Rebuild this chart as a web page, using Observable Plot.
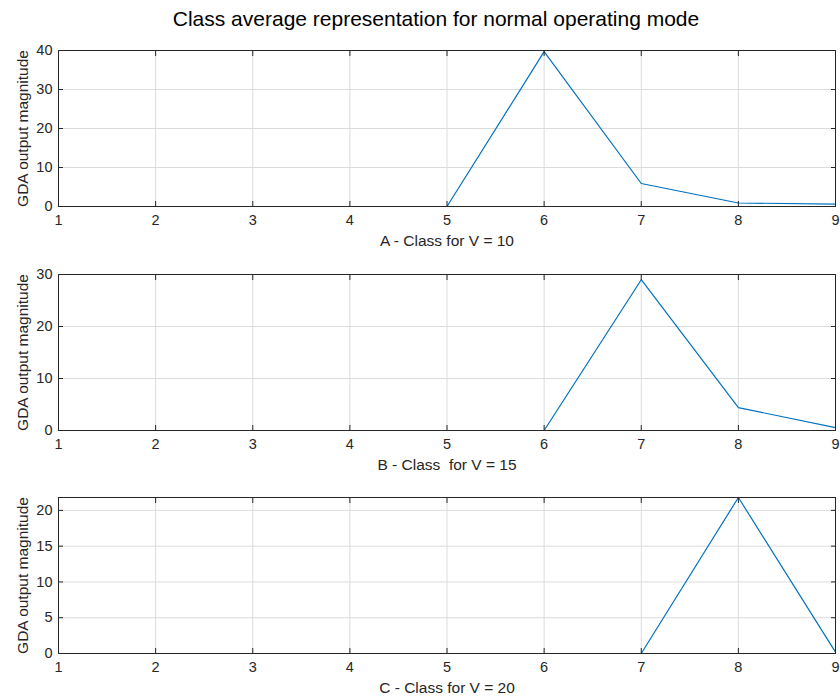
<!DOCTYPE html>
<html>
<head>
<meta charset="utf-8">
<script src="https://cdn.jsdelivr.net/npm/d3@7"></script>
<script src="https://cdn.jsdelivr.net/npm/@observablehq/plot@0.6"></script>
<style>
  body { margin: 0; background: #fff; font-family: "Liberation Sans", Arial, sans-serif; }
  #wrap { position: relative; width: 840px; height: 700px; }
  #title { position: absolute; left: 16px; top: 7px; width: 840px; text-align: center; font-size: 21px; color: #000; }
  .panel { position: absolute; left: 0; }
</style>
</head>
<body>
<div id="wrap">
  <div id="title">Class average representation for normal operating mode</div>
</div>
<script>
// Class index on the x axis (shared by all three panels)
const classes = [1, 2, 3, 4, 5, 6, 7, 8, 9];

// GDA output magnitude per class, one series per speed setting
const magnitudeV10 = [0, 0, 0, 0, 0, 39.7, 5.9, 0.9, 0.6];
const magnitudeV15 = [0, 0, 0, 0, 0, 0, 29.0, 4.4, 0.55];
const magnitudeV20 = [0, 0, 0, 0, 0, 0, 0, 21.8, 0.2];

// Axis labels and limits
const xLabels = ["A - Class for V = 10", "B - Class\u00a0 for V = 15", "C - Class for V = 20"];
const yLabel = "GDA output magnitude";
const yDomains = [[0, 40], [0, 30], [0, 21.8]];
const yTicks = [[0, 10, 20, 30, 40], [0, 10, 20, 30], [0, 5, 10, 15, 20]];
const panelTops = [40, 264, 487];

const series = [magnitudeV10, magnitudeV15, magnitudeV20];
const axisColor = "#262626";
const gridColor = "#dcdcdc";
const lineColor = "#0072bd";

const wrap = document.getElementById("wrap");

series.forEach((values, i) => {
  const data = classes.map((c, k) => ({cls: c, value: values[k]}));
  const plot = Plot.plot({
    width: 840,
    height: 222,
    marginTop: 10,
    marginBottom: 56,
    marginLeft: 58,
    marginRight: 5,
    style: {fontFamily: "Liberation Sans, Arial, sans-serif", fontSize: "14.5px", color: axisColor, background: "transparent"},
    x: {domain: [1, 9], ticks: classes},
    y: {domain: yDomains[i], ticks: yTicks[i]},
    marks: [
      Plot.gridX(classes, {stroke: gridColor, strokeOpacity: 1}),
      Plot.gridY(yTicks[i], {stroke: gridColor, strokeOpacity: 1}),
      Plot.line(data, {x: "cls", y: "value", stroke: lineColor, strokeWidth: 1.2}),
      Plot.frame({stroke: axisColor, strokeWidth: 1}),
      Plot.axisX(classes, {anchor: "bottom", tickSize: -5, tickPadding: 13, stroke: axisColor, fontSize: 14.5,
        label: null}),
      Plot.axisX({anchor: "bottom", ticks: [], tickSize: 0, label: xLabels[i], labelAnchor: "center",
        labelArrow: "none", labelOffset: 39, fontSize: 15.5}),
      Plot.axisX(classes, {anchor: "top", tickSize: -5, tickFormat: () => "", stroke: axisColor, label: null}),
      Plot.axisY(yTicks[i], {anchor: "left", tickSize: -5, tickPadding: 11, stroke: axisColor, fontSize: 14.5,
        label: null}),
      Plot.axisY({anchor: "left", ticks: [], tickSize: 0, label: yLabel, labelAnchor: "center",
        labelArrow: "none", labelOffset: 42, fontSize: 15.5}),
      Plot.axisY(yTicks[i], {anchor: "right", tickSize: -5, tickFormat: () => "", stroke: axisColor, label: null})
    ]
  });
  plot.classList.add("panel");
  plot.style.top = panelTops[i] + "px";
  plot.style.position = "absolute";
  wrap.appendChild(plot);
});
</script>
</body>
</html>
